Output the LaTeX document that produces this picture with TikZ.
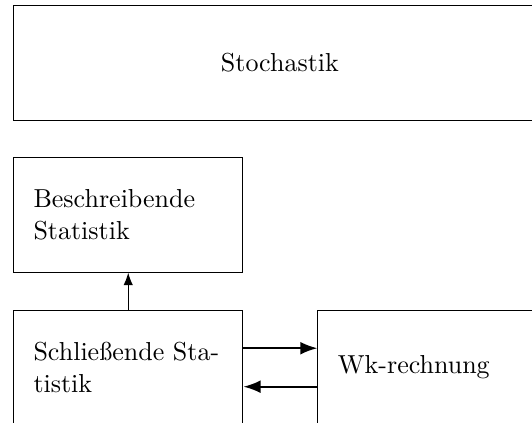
\documentclass[tikz,border=0pt]{standalone}
\usepackage{tikz}
\usetikzlibrary{positioning, arrows.meta}

\begin{document}
\begin{tikzpicture}[box/.style={draw, rectangle, minimum width=3.1cm, minimum height=1.55cm, inner xsep=0.27cm, text width=2.56cm, align=left}]
                    \useasboundingbox (0,0) rectangle (7.19,-5.71);

                    % Nodes
                    \node[box, anchor=north west] (beschr) at (0.176,-2.12) {Beschreibende\\Statistik};
                    \node[box, below=0.5cm of beschr] (schl) {Schließende Sta-\\tistik};
                    \node[box, right=1cm of schl] (wk) {Wk-rechnung};
                    \node[draw, rectangle, minimum width=7.2cm, minimum height=1.55cm, above right=0.49cm and 0cm of beschr.north west] (stoch) {Stochastik};

                    % Edges
                    % schliessende to beschreibende
                    \draw[-{Latex}] (schl.north) -- (beschr.south);

                    % schliessende to wk
                    \draw[thick, -{Latex}] ([yshift=0.26cm]schl.east) -- ([yshift=0.26cm]wk.west);

                    % wk to schliessende
                    \draw[thick, -{Latex}] ([yshift=-0.26cm]wk.west) -- ([yshift=-0.26cm]schl.east);

                \end{tikzpicture}
\end{document}
